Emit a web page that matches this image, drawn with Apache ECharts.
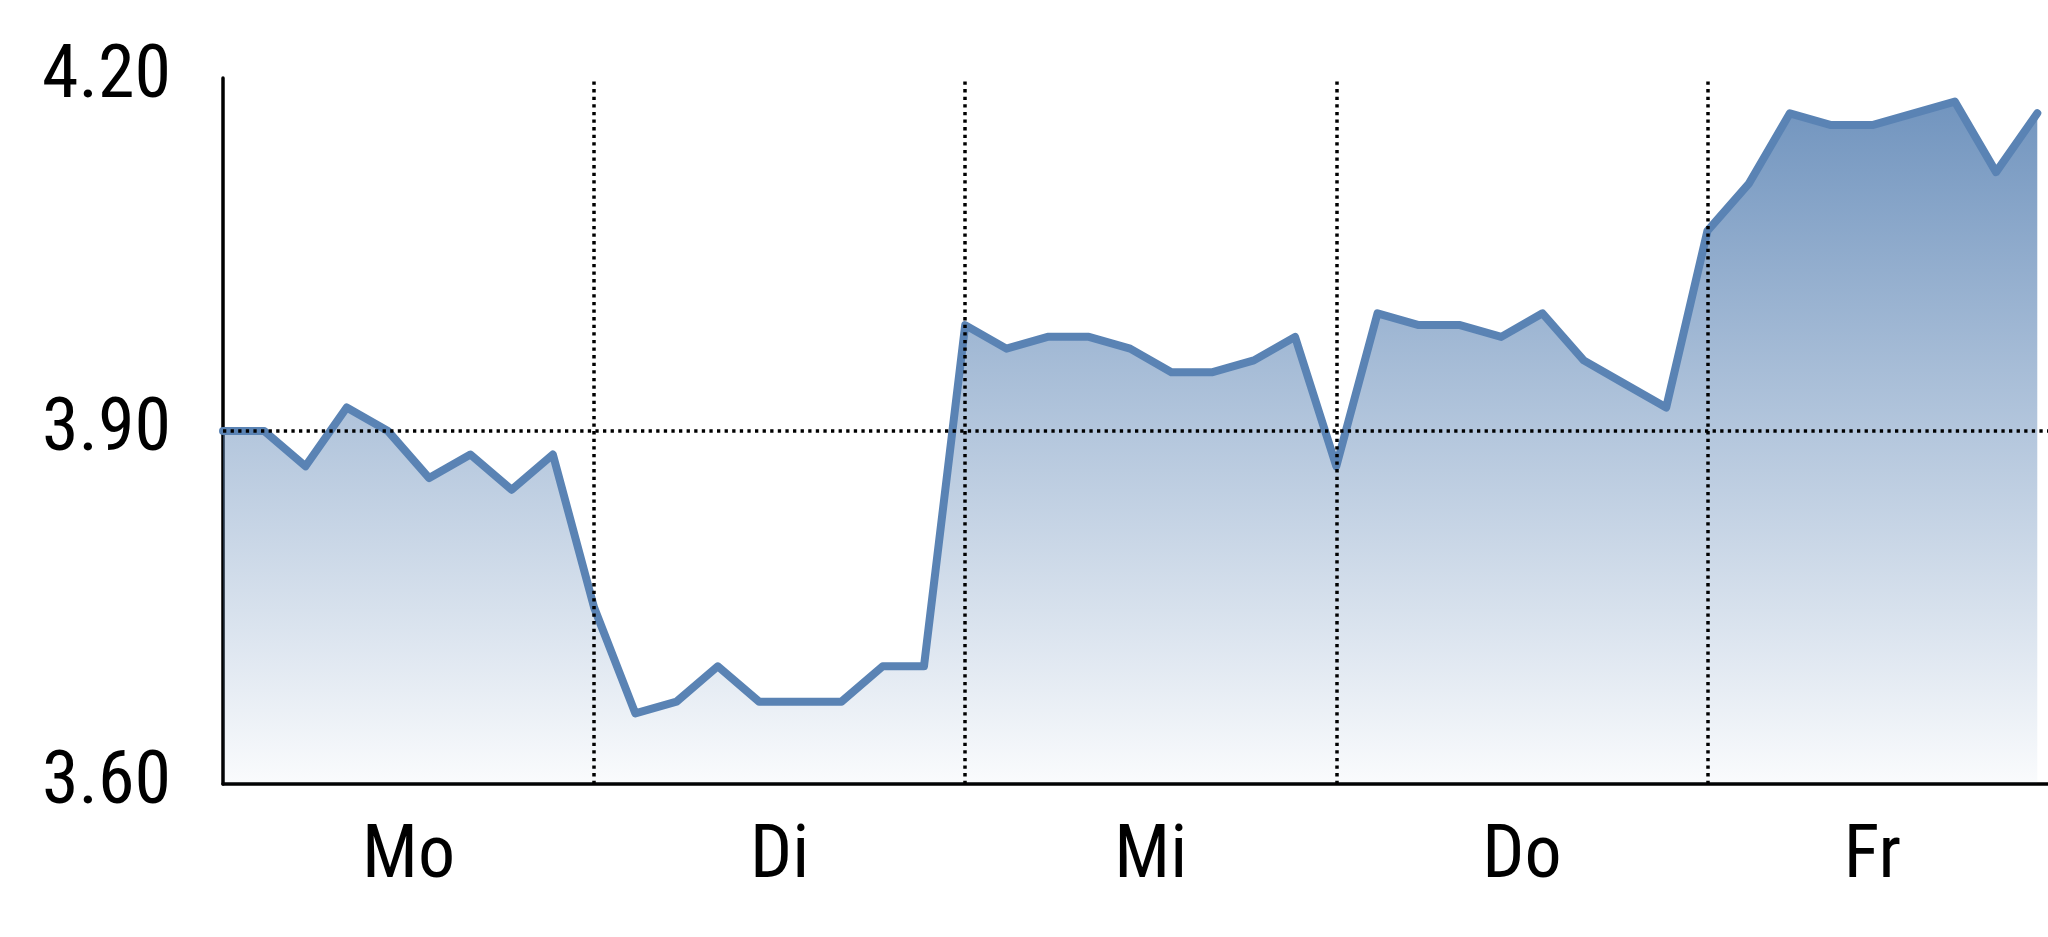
<!DOCTYPE html>
<html>
<head>
<meta charset="utf-8">
<script src="https://cdn.jsdelivr.net/npm/echarts@6/dist/echarts.min.js"></script>
<style>
html,body{margin:0;padding:0;background:#fff;}
#chart{width:2048px;height:937px;}
</style>
</head>
<body>
<div id="chart"></div>
<script>
// ---- data ----
const dayLabels = ['Mo', 'Di', 'Mi', 'Do', 'Fr'];
const pointsPerDay = 9;
const values = [
  3.90, 3.90, 3.87, 3.92, 3.90, 3.86, 3.88, 3.85, 3.88,   // Mo
  3.75, 3.66, 3.67, 3.70, 3.67, 3.67, 3.67, 3.70, 3.70,   // Di
  3.99, 3.97, 3.98, 3.98, 3.97, 3.95, 3.95, 3.96, 3.98,   // Mi
  3.87, 4.00, 3.99, 3.99, 3.98, 4.00, 3.96, 3.94, 3.92,   // Do
  4.07, 4.11, 4.17, 4.16, 4.16, 4.17, 4.18, 4.12, 4.17    // Fr
];
const yTicks = [3.60, 3.90, 4.20];
const refLevel = 3.90;

// ---- derived ----
const seriesData = values.map((v, i) => [i, v]);
const lastIndex = values.length - 1;
const boundaries = [];
for (let d = 1; d < dayLabels.length; d++) boundaries.push(d * pointsPerDay);
const labelPos = dayLabels.map((_, d) => (d * pointsPerDay + Math.min((d + 1) * pointsPerDay, lastIndex)) / 2);

const FONT = 'Roboto, "Liberation Sans", Arial, sans-serif';
const STRETCH = 'condensed';
const dotted = { color: '#000', width: 3.5, type: [3.3, 4.3], cap: 'butt' };

const chart = echarts.init(document.getElementById('chart'), null, { renderer: 'canvas' });
chart.setOption({
  animation: false,
  backgroundColor: '#fff',
  grid: { left: 223, right: 0, top: 78, bottom: 153, containLabel: false },
  xAxis: {
    type: 'value',
    min: 0,
    max: lastIndex + 0.26,
    axisLine: { show: true, lineStyle: { color: '#000', width: 3.5 } },
    axisTick: { show: false },
    splitLine: { show: false },
    axisLabel: {
      customValues: labelPos,
      formatter: (v) => {
        const idx = labelPos.findIndex(p => Math.abs(p - v) < 1e-6);
        return idx >= 0 ? dayLabels[idx] : '';
      },
      color: '#000',
      fontSize: 74,
      fontStyle: STRETCH,
      fontFamily: FONT,
      margin: 37
    }
  },
  yAxis: {
    type: 'value',
    min: yTicks[0],
    max: yTicks[yTicks.length - 1],
    interval: yTicks[1] - yTicks[0],
    axisLine: { show: true, lineStyle: { color: '#000', width: 3.5 } },
    axisTick: { show: false },
    splitLine: { show: false },
    axisLabel: {
      formatter: (v) => v.toFixed(2),
      color: '#000',
      fontSize: 74,
      fontStyle: STRETCH,
      fontFamily: FONT,
      margin: 52
    }
  },
  series: [{
    type: 'line',
    data: seriesData,
    symbol: 'none',
    lineStyle: { color: '#5a83b4', width: 8, join: 'round', cap: 'round' },
    areaStyle: {
      opacity: 1,
      color: new echarts.graphic.LinearGradient(0, 0, 0, 1, [
        { offset: 0, color: 'rgba(90,131,180,0.86)' },
        { offset: 1, color: 'rgba(90,131,180,0.03)' }
      ])
    },
    markLine: {
      silent: true,
      symbol: 'none',
      label: { show: false },
      lineStyle: dotted,
      emphasis: { disabled: true },
      data: boundaries.map(b => ({ xAxis: b })).concat([{ yAxis: refLevel }])
    },
    z: 2
  }]
});
</script>
</body>
</html>
